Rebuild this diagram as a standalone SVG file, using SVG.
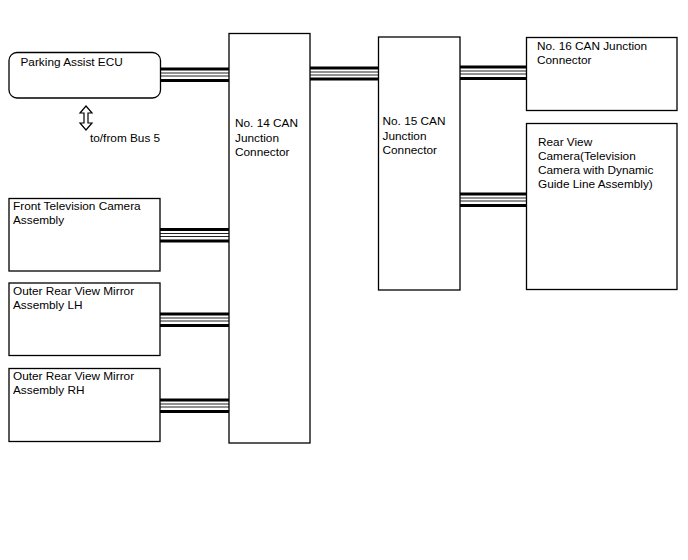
<svg xmlns="http://www.w3.org/2000/svg" width="688" height="560" viewBox="0 0 688 560">
<style>
.box{fill:#fff;stroke:#000;stroke-width:1.3}
.t{font-family:"Liberation Sans",Arial,sans-serif;font-size:11.8px;fill:#000}
.thick{stroke:#000;stroke-width:3}
.thin{stroke:#222;stroke-width:1}
</style>
<g id="connectors">
<g id="bus-ecu" transform="translate(0,69)">
<line class="thick" x1="160" y1="0" x2="229" y2="0"/><line class="thin" x1="160" y1="4" x2="229" y2="4"/><line class="thin" x1="160" y1="7" x2="229" y2="7"/><line class="thick" x1="160" y1="11.5" x2="229" y2="11.5"/>
</g>
<g id="bus-14-15" transform="translate(0,68)">
<line class="thick" x1="310" y1="0" x2="378" y2="0"/><line class="thin" x1="310" y1="4" x2="378" y2="4"/><line class="thin" x1="310" y1="7" x2="378" y2="7"/><line class="thick" x1="310" y1="11" x2="378" y2="11"/>
</g>
<g id="bus-15-16" transform="translate(0,67)">
<line class="thick" x1="460" y1="0" x2="526" y2="0"/><line class="thin" x1="460" y1="4" x2="526" y2="4"/><line class="thin" x1="460" y1="7" x2="526" y2="7"/><line class="thick" x1="460" y1="11.5" x2="526" y2="11.5"/>
</g>
<g id="bus-15-rear" transform="translate(0,194)">
<line class="thick" x1="460" y1="0" x2="526" y2="0"/><line class="thin" x1="460" y1="4" x2="526" y2="4"/><line class="thin" x1="460" y1="7" x2="526" y2="7"/><line class="thick" x1="460" y1="11.5" x2="526" y2="11.5"/>
</g>
<g id="bus-front" transform="translate(0,229.5)">
<line class="thick" x1="160" y1="0" x2="229" y2="0"/><line class="thin" x1="160" y1="4" x2="229" y2="4"/><line class="thin" x1="160" y1="7" x2="229" y2="7"/><line class="thick" x1="160" y1="11.5" x2="229" y2="11.5"/>
</g>
<g id="bus-lh" transform="translate(0,314)">
<line class="thick" x1="160" y1="0" x2="229" y2="0"/><line class="thin" x1="160" y1="4" x2="229" y2="4"/><line class="thin" x1="160" y1="7" x2="229" y2="7"/><line class="thick" x1="160" y1="11.5" x2="229" y2="11.5"/>
</g>
<g id="bus-rh" transform="translate(0,400)">
<line class="thick" x1="160" y1="0" x2="229" y2="0"/><line class="thin" x1="160" y1="4" x2="229" y2="4"/><line class="thin" x1="160" y1="7" x2="229" y2="7"/><line class="thick" x1="160" y1="11.5" x2="229" y2="11.5"/>
</g>
<polygon id="bus5-arrow" points="86,106 92,113 88,113 88,123 92,123 86,130 80,123 84,123 84,113 80,113" fill="#fff" stroke="#000" stroke-width="1.2"/>
<text class="t" x="90" y="142">to/from Bus 5</text>
</g>
<g id="ecu">
<rect class="box" x="9" y="52.5" width="151.5" height="45.5" rx="8"/>
<text class="t" x="20.5" y="66">Parking Assist ECU</text>
</g>
<g id="no14">
<rect class="box" x="229" y="33.5" width="81" height="409.5"/>
<text class="t" x="235" y="127">No. 14 CAN</text>
<text class="t" x="235" y="141.5">Junction</text>
<text class="t" x="235" y="156">Connector</text>
</g>
<g id="no15">
<rect class="box" x="378.5" y="37" width="81.5" height="253"/>
<text class="t" x="382.5" y="125">No. 15 CAN</text>
<text class="t" x="382.5" y="139.5">Junction</text>
<text class="t" x="382.5" y="154">Connector</text>
</g>
<g id="no16">
<rect class="box" x="526.5" y="37.5" width="150.5" height="73"/>
<text class="t" x="537" y="50">No. 16 CAN Junction</text>
<text class="t" x="537" y="64">Connector</text>
</g>
<g id="rear">
<rect class="box" x="526.5" y="123.5" width="150.5" height="166"/>
<text class="t" x="538" y="146">Rear View</text>
<text class="t" x="538" y="160">Camera(Television</text>
<text class="t" x="538" y="174">Camera with Dynamic</text>
<text class="t" x="538" y="188">Guide Line Assembly)</text>
</g>
<g id="front">
<rect class="box" x="9" y="198.5" width="151" height="72.5"/>
<text class="t" x="13" y="209.5">Front Television Camera</text>
<text class="t" x="13" y="223.5">Assembly</text>
</g>
<g id="lh">
<rect class="box" x="9" y="283" width="151" height="72.5"/>
<text class="t" x="13" y="294.5">Outer Rear View Mirror</text>
<text class="t" x="13" y="308.5">Assembly LH</text>
</g>
<g id="rh">
<rect class="box" x="9" y="368.5" width="151" height="73"/>
<text class="t" x="13" y="379.5">Outer Rear View Mirror</text>
<text class="t" x="13" y="393.5">Assembly RH</text>
</g>
</svg>
